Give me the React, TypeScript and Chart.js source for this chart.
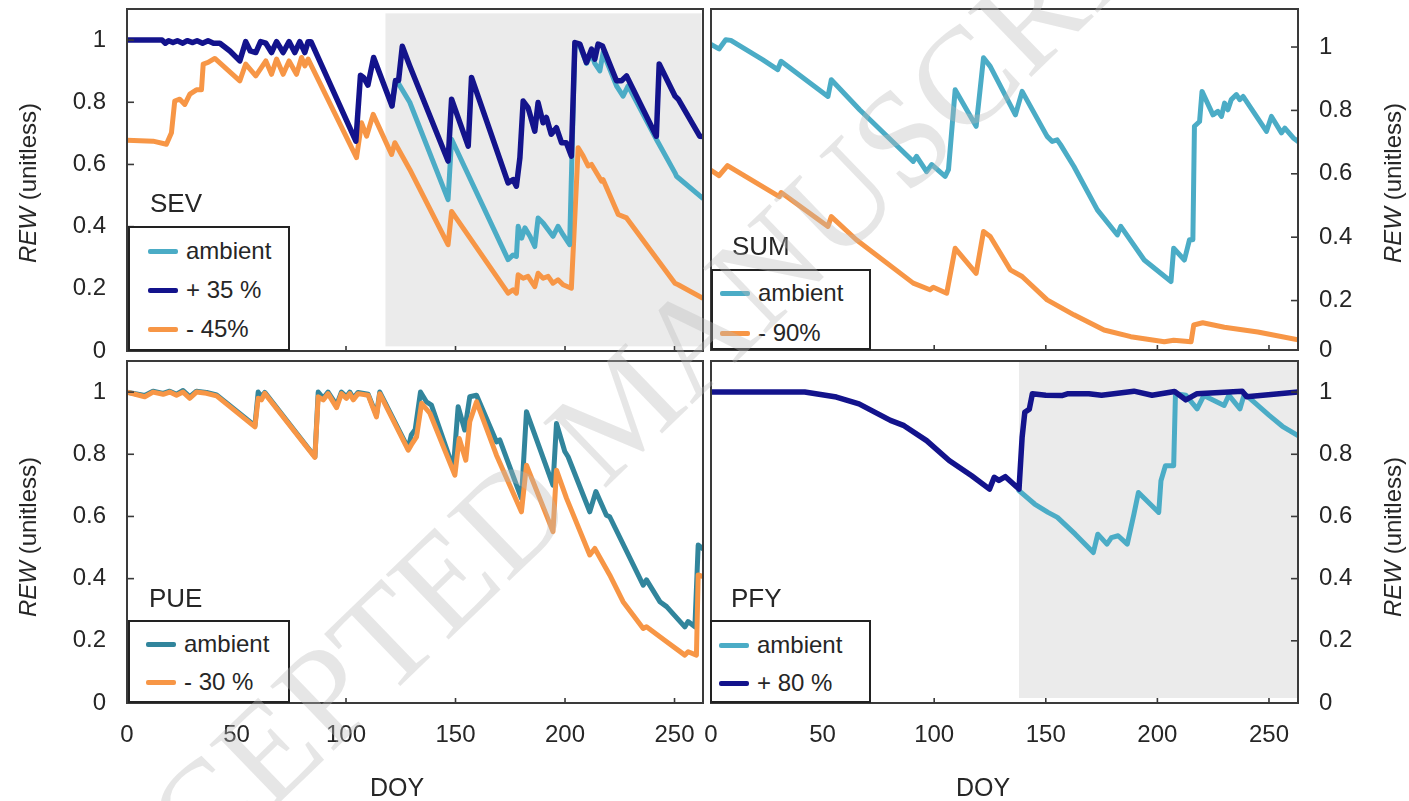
import React, { useEffect, useRef } from "react";
import { Chart, registerables } from "chart.js";

Chart.register(...registerables);

type Pt = [number, number];

// ---------- axes ----------
const X_MIN = 0;
const X_MAX = 263;
const X_TICKS = [0, 50, 100, 150, 200, 250];
const Y_TICKS = [0, 0.2, 0.4, 0.6, 0.8, 1];
const Y_TICK_LABELS = ["0", "0.2", "0.4", "0.6", "0.8", "1"];
const SUM_Y_MIN = 0.044; // bottom of the SUM panel (labelled "0")
const SUM_Y_TICKS = [SUM_Y_MIN, 0.2, 0.4, 0.6, 0.8, 1];

// ---------- treatment periods (shaded) [doyStart, doyEnd, yLow, yHigh] ----------
const SEV_SHADE = [118, 262.3, 0.015, 1.086];
const PFY_SHADE = [138, 263, 0.016, 1.1];

// ---------- SEV ----------
const SEV_AMBIENT: Pt[] = [
  [121, 0.788], [122.6, 0.87], [124, 0.86], [129.1, 0.8], [146.6, 0.487], [148.2, 0.681],
  [174.0, 0.294], [176.3, 0.309], [177.8, 0.304], [178.6, 0.401], [180.2, 0.363], [181.7, 0.396],
  [184.0, 0.369], [186.2, 0.336], [187.7, 0.428], [190.0, 0.412], [192.3, 0.39], [194.5, 0.369],
  [196.8, 0.401], [199.1, 0.374], [202.1, 0.342], [204.5, 0.985], [206.8, 0.98], [209.8, 0.925],
  [212.1, 0.955], [213.6, 0.925], [215.9, 0.901], [217.4, 0.96], [223.5, 0.853], [226.5, 0.82],
  [228.8, 0.853], [241.7, 0.681], [250.2, 0.573], [250.9, 0.562], [262.8, 0.492],
];
const SEV_PLUS35: Pt[] = [
  [0, 1.0], [16, 1.0], [17.5, 0.99], [19, 0.998], [21, 0.992], [23, 0.998], [25.5, 0.99],
  [27.5, 0.998], [30, 0.992], [32, 0.998], [34.5, 0.99], [37, 0.998], [39.5, 0.99], [42.4, 0.99],
  [47, 0.965], [51.5, 0.933], [54.2, 0.995], [56.3, 0.965], [58.8, 0.96], [61, 0.995], [63.4, 0.99],
  [66, 0.96], [68.3, 0.995], [71.3, 0.96], [74, 0.995], [76.6, 0.96], [78.9, 0.995], [81.2, 0.96],
  [82.7, 0.995], [84, 0.995], [104.5, 0.675], [106.6, 0.887], [108, 0.88], [110, 0.855],
  [112.6, 0.944], [121, 0.788], [122.6, 0.87], [124, 0.87], [125.7, 0.98], [129.1, 0.917],
  [146.6, 0.611], [148.2, 0.81], [155.8, 0.659], [157.3, 0.88], [174.0, 0.541], [176.3, 0.551],
  [177.8, 0.53], [179.4, 0.622], [180.9, 0.804], [183.1, 0.783], [186.2, 0.707], [187.7, 0.799],
  [190.0, 0.734], [191.5, 0.751], [193.7, 0.697], [196.1, 0.718], [198.4, 0.67], [200.6, 0.67],
  [202.9, 0.627], [204.5, 0.992], [206.8, 0.987], [209.8, 0.928], [212.1, 0.971], [213.6, 0.939],
  [215.1, 0.987], [217.1, 0.981], [223.5, 0.869], [225.8, 0.869], [228.1, 0.885], [241.7, 0.691],
  [243.0, 0.923], [250.2, 0.82], [251.7, 0.81], [261.5, 0.691], [263, 0.69],
];
const SEV_MINUS45: Pt[] = [
  [0, 0.678], [11.9, 0.675], [18.0, 0.665], [20.3, 0.702], [21.8, 0.804], [24.1, 0.81],
  [26.4, 0.793], [28.7, 0.826], [31.7, 0.84], [34.0, 0.84], [34.8, 0.923], [37.0, 0.928],
  [40.1, 0.941], [51.5, 0.869], [54.2, 0.923], [58.8, 0.885], [63.4, 0.933], [66.0, 0.89],
  [68.3, 0.939], [71.3, 0.89], [74.0, 0.933], [77.4, 0.89], [79.7, 0.944], [81.2, 0.917],
  [82.7, 0.939], [104.8, 0.622], [107.1, 0.734], [109.4, 0.691], [112.4, 0.761], [120.8, 0.632],
  [122.3, 0.67], [129.1, 0.584], [146.6, 0.342], [148.2, 0.449], [174.0, 0.186], [176.3, 0.197],
  [177.8, 0.186], [178.6, 0.245], [180.9, 0.234], [183.1, 0.24], [186.2, 0.207], [187.7, 0.25],
  [190.0, 0.234], [192.3, 0.24], [194.5, 0.218], [196.8, 0.229], [199.1, 0.213], [202.9, 0.202],
  [206.0, 0.654], [208.3, 0.627], [210.6, 0.595], [212.1, 0.6], [216.7, 0.546], [217.4, 0.551],
  [224.3, 0.439], [228.1, 0.428], [250.2, 0.218], [251.7, 0.213], [262.8, 0.17],
];

// ---------- SUM ----------
const SUM_AMBIENT: Pt[] = [
  [0, 1.008], [3.6, 0.994], [6.6, 1.023], [8.9, 1.021], [23.1, 0.96], [29.9, 0.929], [31.4, 0.955],
  [52.4, 0.844], [53.9, 0.897], [66.6, 0.802], [90.6, 0.639], [92.1, 0.655], [96.6, 0.607],
  [98.9, 0.629], [104.9, 0.592], [106.4, 0.613], [109.4, 0.865], [118.8, 0.75], [122.1, 0.966],
  [125.1, 0.939], [136.4, 0.786], [139.4, 0.86], [150.6, 0.718], [152.9, 0.702], [155.1, 0.707],
  [156.6, 0.692], [162.6, 0.623], [173.1, 0.486], [182.1, 0.407], [183.6, 0.434], [194.1, 0.328],
  [206.1, 0.26], [207.3, 0.365], [212.1, 0.328], [214.4, 0.392], [215.9, 0.392], [216.6, 0.75],
  [218.9, 0.765], [220.0, 0.86], [224.9, 0.786], [227.1, 0.797], [228.7, 0.781], [230.1, 0.823],
  [231.6, 0.802], [233.1, 0.834], [235.4, 0.85], [236.9, 0.834], [238.4, 0.844], [248.9, 0.734],
  [251.1, 0.781], [255.6, 0.729], [257.1, 0.744], [260.9, 0.713], [263, 0.702],
];
const SUM_MINUS90: Pt[] = [
  [0, 0.611], [3.6, 0.594], [7.4, 0.626], [30.6, 0.528], [31.4, 0.541], [52.4, 0.434],
  [53.9, 0.465], [65.1, 0.392], [90.6, 0.255], [98.1, 0.234], [99.6, 0.242], [105.6, 0.223],
  [109.4, 0.365], [118.8, 0.286], [122.1, 0.418], [125.1, 0.402], [134.1, 0.297], [139.4, 0.276],
  [150.6, 0.202], [162.6, 0.155], [176.1, 0.107], [188.1, 0.086], [203.1, 0.07], [207.3, 0.075],
  [215.1, 0.07], [216.3, 0.123], [220.3, 0.13], [230.0, 0.116], [245.0, 0.101], [263, 0.076],
];

// ---------- PUE ----------
const PUE_AMBIENT: Pt[] = [
  [0, 1.0], [8.1, 0.989], [11.9, 1.003], [16.5, 0.996], [19.5, 1.003], [22.6, 0.993], [25.6, 1.005],
  [28.7, 0.985], [31.7, 1.003], [36.3, 0.999], [40.9, 0.991], [58.4, 0.892], [59.9, 1.0],
  [61.4, 0.985], [62.9, 0.999], [85.8, 0.792], [87.3, 1.0], [89.6, 0.98], [91.8, 1.0], [95.7, 0.958],
  [97.9, 1.0], [100.2, 0.985], [101.7, 1.0], [103.3, 0.98], [105.5, 0.999], [110.1, 0.993],
  [113.9, 0.926], [115.4, 1.0], [128.4, 0.819], [129.8, 0.862], [131.6, 0.88], [134.0, 1.0],
  [136.7, 0.969], [139.0, 0.958], [149.0, 0.755], [151.2, 0.953], [154.2, 0.878], [156.5, 0.985],
  [159.6, 0.99], [168.7, 0.84], [170.2, 0.846], [180.1, 0.658], [182.4, 0.937], [194.5, 0.701],
  [196.1, 0.899], [199.9, 0.809], [201.4, 0.792], [211.3, 0.615], [214.1, 0.68], [218.9, 0.604],
  [220.4, 0.599], [235.7, 0.379], [237.2, 0.396], [243.3, 0.326], [246.4, 0.31], [254.7, 0.245],
  [256.2, 0.262], [259.3, 0.245], [260.8, 0.508], [262.8, 0.497],
];
const PUE_MINUS30: Pt[] = [
  [0, 1.0], [8.1, 0.985], [11.9, 1.0], [16.5, 0.993], [19.5, 1.0], [22.6, 0.99], [25.6, 1.0],
  [28.7, 0.98], [31.7, 1.0], [36.3, 0.996], [40.9, 0.988], [58.4, 0.888], [59.9, 0.98],
  [61.4, 0.975], [62.9, 0.996], [85.8, 0.79], [87.3, 0.985], [89.6, 0.975], [91.8, 0.995],
  [95.7, 0.95], [97.9, 0.995], [100.2, 0.98], [101.7, 0.995], [103.3, 0.975], [105.5, 0.995],
  [110.1, 0.99], [113.9, 0.92], [115.4, 0.995], [128.4, 0.813], [129.8, 0.83], [132.2, 0.856],
  [134.5, 0.964], [138.3, 0.932], [149.7, 0.733], [151.7, 0.851], [154.7, 0.781], [156.5, 0.905],
  [159.6, 0.969], [168.7, 0.797], [180.1, 0.615], [182.4, 0.765], [194.5, 0.551], [196.1, 0.749],
  [200.7, 0.658], [211.3, 0.476], [213.6, 0.497], [220.4, 0.412], [226.5, 0.326], [235.7, 0.24],
  [237.2, 0.245], [246.4, 0.197], [254.7, 0.154], [256.2, 0.165], [260.0, 0.154], [260.8, 0.412],
  [262.8, 0.407],
];

// ---------- PFY ----------
const PFY_AMBIENT: Pt[] = [
  [138, 0.683], [145, 0.64], [151, 0.613], [155.2, 0.597], [163.2, 0.543], [171.3, 0.484],
  [173.3, 0.543], [177.4, 0.511], [179.4, 0.532], [182.4, 0.538], [186.5, 0.511], [189.5, 0.608],
  [191.5, 0.677], [200.6, 0.613], [201.6, 0.715], [203.6, 0.763], [207.3, 0.763], [208.1, 0.995],
  [212.7, 0.99], [217.8, 0.946], [220.8, 0.989], [229.9, 0.957], [232, 0.99], [237, 0.946],
  [239, 0.995], [250.1, 0.925], [256, 0.89], [263, 0.86],
];
const PFY_PLUS80: Pt[] = [
  [0, 1.0], [42, 1.0], [56.2, 0.984], [66.3, 0.962], [80.4, 0.909], [86.5, 0.892], [96.6, 0.844],
  [106.7, 0.78], [116.8, 0.731], [124.8, 0.688], [126.9, 0.726], [129.0, 0.716], [131.9, 0.728],
  [138, 0.688], [139.4, 0.855], [140.6, 0.935], [142.6, 0.945], [144, 0.995], [150, 0.99],
  [157.2, 0.989], [160, 0.995], [169.3, 0.995], [175, 0.99], [189.5, 1.003], [197.6, 0.99],
  [207.7, 1.002], [212.7, 0.975], [217.8, 0.995], [238.0, 1.003], [240.0, 0.985], [263, 1.0],
];

// ---------- styles ----------
const LIGHT_BLUE = "#4BACC6";
const NAVY = "#13138C";
const ORANGE = "#F79646";
const TEAL = "#31859C";
const TEXT = "#262626";
const FONT = "'Liberation Sans', Arial, Helvetica, sans-serif";

type Series = { label: string; color: string; data: Pt[]; order: number; width: number };
type PanelDef = {
  name: string;
  canvas: { left: number; top: number; w: number; h: number };
  area: { left: number; top: number; right: number; bottom: number };
  side: "left" | "right";
  showX: boolean;
  yMin: number;
  yMax: number;
  yTicks: number[];
  shade: number[] | null;
  series: Series[];
  legend: { left: number; top: number; w: number; h: number; sample: number; first: number; gap: number };
  nameLabel: { left: number; top: number };
  title: { x: number; y: number };
};

const PANELS: PanelDef[] = [
  {
    name: "SEV",
    canvas: { left: 0, top: 0, w: 706, h: 366 },
    area: { left: 127, top: 9, right: 703, bottom: 351 },
    side: "left", showX: false, yMin: 0, yMax: 1.1, yTicks: Y_TICKS, shade: SEV_SHADE,
    series: [
      { label: "ambient", color: LIGHT_BLUE, data: SEV_AMBIENT, order: 1, width: 5 },
      { label: "+ 35 %", color: NAVY, data: SEV_PLUS35, order: 0, width: 5.5 },
      { label: "- 45%", color: ORANGE, data: SEV_MINUS45, order: 2, width: 5 },
    ],
    legend: { left: 128, top: 226, w: 162, h: 125, sample: 20, first: 25, gap: 39 },
    nameLabel: { left: 150, top: 190 },
    title: { x: 28, y: 183 },
  },
  {
    name: "SUM",
    canvas: { left: 695, top: 0, w: 714, h: 366 },
    area: { left: 711, top: 9, right: 1298, bottom: 350 },
    side: "right", showX: false, yMin: SUM_Y_MIN, yMax: 1.12, yTicks: SUM_Y_TICKS, shade: null,
    series: [
      { label: "ambient", color: LIGHT_BLUE, data: SUM_AMBIENT, order: 0, width: 5 },
      { label: "- 90%", color: ORANGE, data: SUM_MINUS90, order: 1, width: 5 },
    ],
    legend: { left: 711, top: 269, w: 160, h: 81, sample: 9, first: 24, gap: 40 },
    nameLabel: { left: 732, top: 233 },
    title: { x: 1393, y: 183 },
  },
  {
    name: "PUE",
    canvas: { left: 0, top: 355, w: 706, h: 446 },
    area: { left: 127, top: 361, right: 703, bottom: 703 },
    side: "left", showX: true, yMin: 0, yMax: 1.1, yTicks: Y_TICKS, shade: null,
    series: [
      { label: "ambient", color: TEAL, data: PUE_AMBIENT, order: 1, width: 5 },
      { label: "- 30 %", color: ORANGE, data: PUE_MINUS30, order: 0, width: 5 },
    ],
    legend: { left: 128, top: 620, w: 162, h: 83, sample: 18, first: 24, gap: 38 },
    nameLabel: { left: 149, top: 585 },
    title: { x: 28, y: 537 },
  },
  {
    name: "PFY",
    canvas: { left: 695, top: 355, w: 714, h: 446 },
    area: { left: 711, top: 361, right: 1298, bottom: 703 },
    side: "right", showX: true, yMin: 0, yMax: 1.1, yTicks: Y_TICKS, shade: PFY_SHADE,
    series: [
      { label: "ambient", color: LIGHT_BLUE, data: PFY_AMBIENT, order: 1, width: 5 },
      { label: "+ 80 %", color: NAVY, data: PFY_PLUS80, order: 0, width: 5.5 },
    ],
    legend: { left: 710, top: 620, w: 161, h: 83, sample: 9, first: 25, gap: 38 },
    nameLabel: { left: 731, top: 585 },
    title: { x: 1393, y: 537 },
  },
];

const framePlugin = {
  id: "frame",
  beforeDatasetsDraw(chart: any, _a: any, opts: any) {
    const shade = opts.shade;
    if (!shade) return;
    const { ctx, scales } = chart;
    const x0 = scales.x.getPixelForValue(shade[0]);
    const x1 = scales.x.getPixelForValue(shade[1]);
    const y0 = scales.y.getPixelForValue(shade[3]);
    const y1 = scales.y.getPixelForValue(shade[2]);
    ctx.save();
    ctx.fillStyle = "#ebebeb";
    ctx.fillRect(x0, y0, x1 - x0, y1 - y0);
    ctx.restore();
  },
  afterDraw(chart: any, _a: any, opts: any) {
    const { ctx, chartArea: a, scales } = chart;
    ctx.save();
    ctx.strokeStyle = "#3a3a3a";
    ctx.lineWidth = 1.6;
    X_TICKS.forEach((v) => {
      if (v <= X_MIN) return;
      const px = scales.x.getPixelForValue(v);
      ctx.beginPath();
      ctx.moveTo(px, a.bottom);
      ctx.lineTo(px, a.bottom - 5);
      ctx.stroke();
    });
    (opts.yTicks as number[]).forEach((v) => {
      if (v <= opts.yMin + 1e-9) return;
      const py = scales.y.getPixelForValue(v);
      ctx.beginPath();
      if (opts.side === "left") {
        ctx.moveTo(a.left, py);
        ctx.lineTo(a.left + 7, py);
      } else {
        ctx.moveTo(a.right, py);
        ctx.lineTo(a.right - 7, py);
      }
      ctx.stroke();
    });
    ctx.strokeStyle = "#3a3a3a";
    ctx.lineWidth = 2;
    ctx.strokeRect(a.left, a.top, a.right - a.left, a.bottom - a.top);
    ctx.restore();
  },
};

function yLabel(v: number, ticks: number[]): string {
  const i = ticks.findIndex((t) => Math.abs(t - v) < 1e-6);
  return i >= 0 ? Y_TICK_LABELS[i] : "";
}

function zeroPadding(s: any) {
  s.paddingTop = 0;
  s.paddingBottom = 0;
  s.paddingLeft = 0;
  s.paddingRight = 0;
}

function Panel({ def }: { def: PanelDef }) {
  const ref = useRef<HTMLCanvasElement>(null);
  useEffect(() => {
    const c = def.canvas;
    const ar = {
      left: def.area.left - c.left,
      right: def.area.right - c.left,
      top: def.area.top - c.top,
      bottom: def.area.bottom - c.top,
    };
    const yAxisW = def.side === "left" ? ar.left : c.w - ar.right;
    const xAxisH = c.h - ar.bottom;
    const tickFont = { family: FONT, size: 24 };
    const chart = new Chart(ref.current as HTMLCanvasElement, {
      type: "line",
      data: {
        datasets: def.series.map((s) => ({
          label: s.label,
          data: s.data.map(([x, y]) => ({ x, y })),
          borderColor: s.color,
          backgroundColor: s.color,
          borderWidth: s.width,
          pointRadius: 0,
          tension: 0,
          fill: false,
          order: s.order,
          borderJoinStyle: "round",
          borderCapStyle: "round",
        })),
      },
      options: {
        animation: false,
        responsive: false,
        maintainAspectRatio: false,
        devicePixelRatio: 1,
        events: [],
        layout: {
          padding: {
            left: def.side === "left" ? 0 : ar.left,
            right: def.side === "left" ? c.w - ar.right : 0,
            top: ar.top,
            bottom: 0,
          },
        },
        plugins: {
          legend: { display: false },
          tooltip: { enabled: false },
          frame: { shade: def.shade, yTicks: def.yTicks, yMin: def.yMin, side: def.side },
        } as any,
        scales: {
          x: {
            type: "linear",
            position: "bottom",
            min: X_MIN,
            max: X_MAX,
            afterBuildTicks: (s: any) => {
              s.ticks = X_TICKS.map((v) => ({ value: v }));
            },
            afterFit: (s: any) => {
              s.height = xAxisH;
              zeroPadding(s);
            },
            grid: { display: false, drawTicks: false },
            border: { display: false },
            ticks: {
              display: def.showX,
              padding: 18,
              font: tickFont,
              color: TEXT,
              maxRotation: 0,
              autoSkip: false,
              callback: (v: any) => String(v),
            },
          },
          y: {
            type: "linear",
            position: def.side,
            min: def.yMin,
            max: def.yMax,
            afterBuildTicks: (s: any) => {
              s.ticks = def.yTicks.map((v) => ({ value: v }));
            },
            afterFit: (s: any) => {
              s.width = yAxisW;
              zeroPadding(s);
            },
            grid: { display: false, drawTicks: false },
            border: { display: false },
            ticks: {
              padding: 21,
              font: tickFont,
              color: TEXT,
              autoSkip: false,
              callback: (v: any) => yLabel(Number(v), def.yTicks),
            },
          },
        },
      } as any,
      plugins: [framePlugin as any],
    });
    return () => chart.destroy();
  }, [def]);
  return (
    <canvas
      ref={ref}
      width={def.canvas.w}
      height={def.canvas.h}
      style={{
        position: "absolute",
        left: def.canvas.left,
        top: def.canvas.top,
        width: def.canvas.w,
        height: def.canvas.h,
      }}
    />
  );
}

function Legend({ def }: { def: PanelDef }) {
  const L = def.legend;
  return (
    <div
      style={{
        position: "absolute",
        left: L.left,
        top: L.top,
        width: L.w,
        height: L.h,
        boxSizing: "border-box",
        border: "2px solid #222",
        background: "#fff",
      }}
    >
      {def.series.map((s, i) => (
        <div
          key={s.label}
          style={{
            position: "absolute",
            left: L.sample - 2,
            top: L.first + i * L.gap - 2 - 15,
            height: 30,
            display: "flex",
            alignItems: "center",
            whiteSpace: "nowrap",
          }}
        >
          <div style={{ width: 30, height: 5, background: s.color, borderRadius: 2 }} />
          <span style={{ marginLeft: 8, fontSize: 24, color: TEXT, lineHeight: "30px" }}>{s.label}</span>
        </div>
      ))}
    </div>
  );
}

export default function App() {
  useEffect(() => {
    document.body.style.margin = "0";
  }, []);
  return (
    <div
      style={{
        position: "fixed",
        left: 0,
        top: 0,
        width: 1409,
        height: 801,
        background: "#fff",
        overflow: "hidden",
        fontFamily: FONT,
        color: TEXT,
      }}
    >
      {PANELS.map((p) => (
        <Panel key={p.name} def={p} />
      ))}
      {PANELS.map((p) => (
        <Legend key={p.name + "-lg"} def={p} />
      ))}
      {PANELS.map((p) => (
        <div
          key={p.name + "-nm"}
          style={{ position: "absolute", left: p.nameLabel.left, top: p.nameLabel.top, fontSize: 26, lineHeight: 1 }}
        >
          {p.name}
        </div>
      ))}
      {PANELS.map((p) => (
        <div
          key={p.name + "-tt"}
          style={{
            position: "absolute",
            left: p.title.x,
            top: p.title.y,
            transform: "translate(-50%, -50%) rotate(-90deg)",
            whiteSpace: "nowrap",
            fontSize: 24,
            lineHeight: 1,
          }}
        >
          <i>REW</i> (unitless)
        </div>
      ))}
      <div style={{ position: "absolute", left: 397, top: 775, transform: "translateX(-50%)", fontSize: 25, lineHeight: 1 }}>
        DOY
      </div>
      <div style={{ position: "absolute", left: 983, top: 775, transform: "translateX(-50%)", fontSize: 25, lineHeight: 1 }}>
        DOY
      </div>
      <div
        style={{
          position: "absolute",
          left: 622,
          top: 408,
          transform: "translate(-50%, -50%) rotate(-44deg)",
          whiteSpace: "nowrap",
          fontFamily: "'Liberation Serif', 'Times New Roman', serif",
          fontSize: 138,
          lineHeight: 1,
          color: "rgba(185,185,185,0.36)",
          pointerEvents: "none",
        }}
      >
        ACCEPTED MANUSCRIPT
      </div>
    </div>
  );
}
